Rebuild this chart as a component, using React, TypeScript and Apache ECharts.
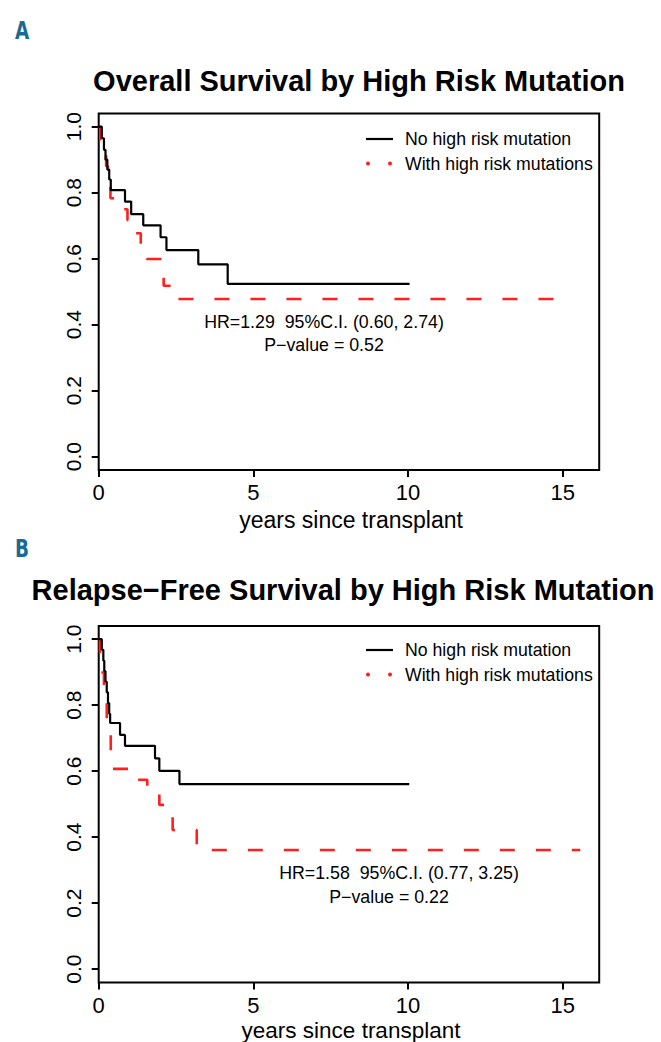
import React, { useEffect, useRef } from "react";
import * as echarts from "echarts";

const panelLetters = ["A", "B"];
const panelTitles = [
  "Overall Survival by High Risk Mutation",
  "Relapse\u2212Free Survival by High Risk Mutation",
];
const xAxisTitle = "years since transplant";
const xTickValues = [0, 5, 10, 15];
const yTickValues = [0, 0.2, 0.4, 0.6, 0.8, 1.0];
const legendNames = ["No high risk mutation", "With high risk mutations"];
const statLinesA = ["HR=1.29  95%C.I. (0.60, 2.74)", "P\u2212value = 0.52"];
const statLinesB = ["HR=1.58  95%C.I. (0.77, 3.25)", "P\u2212value = 0.22"];

// Panel A: overall survival
const osNoHighTime = [0, 0.1, 0.17, 0.22, 0.28, 0.34, 0.39, 0.85, 1.05, 1.44, 2.0, 2.19, 3.22, 4.17, 10.05];
const osNoHighSurv = [1.0, 0.965, 0.93, 0.9, 0.87, 0.84, 0.808, 0.773, 0.735, 0.701, 0.665, 0.626, 0.583, 0.524, 0.524];
const osHighTime = [0, 0.05, 0.15, 0.24, 0.3, 0.38, 0.62, 0.93, 1.15, 1.36, 1.55, 2.04, 2.1, 2.5, 14.9];
const osHighSurv = [1.0, 0.96, 0.92, 0.88, 0.84, 0.783, 0.75, 0.717, 0.677, 0.641, 0.599, 0.559, 0.518, 0.478, 0.478];

// Panel B: relapse-free survival
const rfsNoHighTime = [0, 0.1, 0.15, 0.18, 0.22, 0.26, 0.3, 0.34, 0.37, 0.69, 0.85, 1.82, 1.96, 2.61, 10.04];
const rfsNoHighSurv = [1.0, 0.968, 0.935, 0.903, 0.871, 0.839, 0.806, 0.774, 0.746, 0.71, 0.677, 0.639, 0.601, 0.561, 0.561];
const rfsHighTime = [0, 0.04, 0.17, 0.26, 0.39, 1.1, 1.57, 1.96, 2.39, 3.17, 15.57];
const rfsHighSurv = [1.0, 0.899, 0.837, 0.746, 0.607, 0.574, 0.543, 0.498, 0.422, 0.361, 0.361];

const FONT = "'Liberation Sans', Arial, Helvetica, sans-serif";
const RED = "#ff1f1f";

function pairs(t: number[], s: number[]) {
  return t.map((v, i) => [v, s[i]]);
}

export default function App() {
  const ref = useRef<HTMLDivElement>(null);
  useEffect(() => {
    if (!ref.current) return;
    const chart = echarts.init(ref.current, null, { renderer: "svg" });
    const gridTops = [113.5, 626];
    const grids = gridTops.map((top) => ({
      left: 98.7,
      top,
      width: 500.5,
      height: 356.4,
      show: true,
      borderColor: "#000",
      borderWidth: 2,
      backgroundColor: "transparent",
    }));
    const xAxes = [0, 1].map((i) => ({
      type: "value",
      gridIndex: i,
      position: "bottom",
      min: 0,
      max: 16.18,
      axisLine: { show: false, onZero: false },
      splitLine: { show: false },
      axisTick: {
        show: true,
        inside: false,
        length: 7,
        customValues: xTickValues,
        lineStyle: { color: "#000", width: 2 },
      },
      axisLabel: {
        show: true,
        customValues: xTickValues,
        margin: 12,
        fontSize: 22,
        fontFamily: FONT,
        color: "#000",
        formatter: (v: number) => String(v),
      },
    }));
    const yAxes = [0, 1].map((i) => ({
      type: "value",
      gridIndex: i,
      position: "left",
      min: -0.04,
      max: 1.04,
      axisLine: { show: false, onZero: false },
      splitLine: { show: false },
      axisTick: {
        show: true,
        inside: false,
        length: 7,
        customValues: yTickValues,
        lineStyle: { color: "#000", width: 2 },
      },
      axisLabel: {
        show: true,
        customValues: yTickValues,
        rotate: 90,
        margin: 15,
        fontSize: 21,
        fontFamily: FONT,
        color: "#000",
        formatter: (v: number) => v.toFixed(1),
      },
    }));
    const blackStyle = { color: "#000", width: 2.2, type: "solid" };
    const redStyle = { color: RED, width: 2.6, type: [15, 21] };
    const mk = (data: number[][], idx: number, style: any, name: string) => ({
      type: "line",
      name,
      xAxisIndex: idx,
      yAxisIndex: idx,
      data,
      step: "end",
      showSymbol: false,
      symbol: "none",
      lineStyle: style,
      silent: true,
      z: style.color === "#000" ? 3 : 2,
    });
    const series = [
      mk(pairs(osNoHighTime, osNoHighSurv), 0, blackStyle, legendNames[0]),
      mk(pairs(osHighTime, osHighSurv), 0, redStyle, legendNames[1]),
      mk(pairs(rfsNoHighTime, rfsNoHighSurv), 1, blackStyle, legendNames[0]),
      mk(pairs(rfsHighTime, rfsHighSurv), 1, redStyle, legendNames[1]),
    ];

    const txt = (text: string, x: number, y: number, font: any, align = "center") => ({
      type: "text",
      x,
      y,
      style: {
        text,
        fill: "#000",
        align,
        verticalAlign: "middle",
        ...font,
      },
    });
    const regular = (size: number) => ({ fontSize: size, fontFamily: FONT });
    const bold = (size: number) => ({ fontSize: size, fontFamily: FONT, fontWeight: "bold" });

    const legend = (y0: number) => [
      { type: "line", shape: { x1: 366, y1: y0, x2: 393, y2: y0 }, style: { stroke: "#000", lineWidth: 2.2 } },
      txt(legendNames[0], 405, y0, regular(17.7), "left"),
      { type: "circle", shape: { cx: 368, cy: y0 + 24.5, r: 2 }, style: { fill: RED } },
      { type: "circle", shape: { cx: 390, cy: y0 + 24.5, r: 2 }, style: { fill: RED } },
      txt(legendNames[1], 405, y0 + 24.5, regular(17.7), "left"),
    ];

    const letterStyle = (text: string) => ({
      text,
      fill: "#1a6a93",
      align: "center",
      verticalAlign: "middle",
      fontSize: 24,
      fontWeight: "bold",
      fontFamily: "'DejaVu Sans Condensed', 'DejaVu Sans', sans-serif",
    });

    const graphic = [
      { type: "text", x: 22, y: 30, scaleX: 0.85, style: letterStyle(panelLetters[0]) },
      { type: "text", x: 22, y: 548, scaleX: 0.85, style: letterStyle(panelLetters[1]) },
      txt(panelTitles[0], 359, 81, bold(29)),
      txt(panelTitles[1], 343, 590, bold(29)),
      txt(xAxisTitle, 351, 520, regular(23)),
      txt(xAxisTitle, 351, 1030, regular(22.5)),
      ...legend(139),
      ...legend(650),
      txt(statLinesA[0], 324, 322, regular(17.8)),
      txt(statLinesA[1], 324, 345, regular(17.8)),
      txt(statLinesB[0], 399, 873, regular(17.8)),
      txt(statLinesB[1], 389, 897, regular(17.8)),
    ];

    chart.setOption({
      animation: false,
      backgroundColor: "#fff",
      grid: grids,
      xAxis: xAxes,
      yAxis: yAxes,
      series,
      graphic,
    });
    return () => chart.dispose();
  }, []);
  return (
    <div
      ref={ref}
      style={{ position: "fixed", left: 0, top: 0, width: 661, height: 1042, background: "#fff" }}
    />
  );
}
